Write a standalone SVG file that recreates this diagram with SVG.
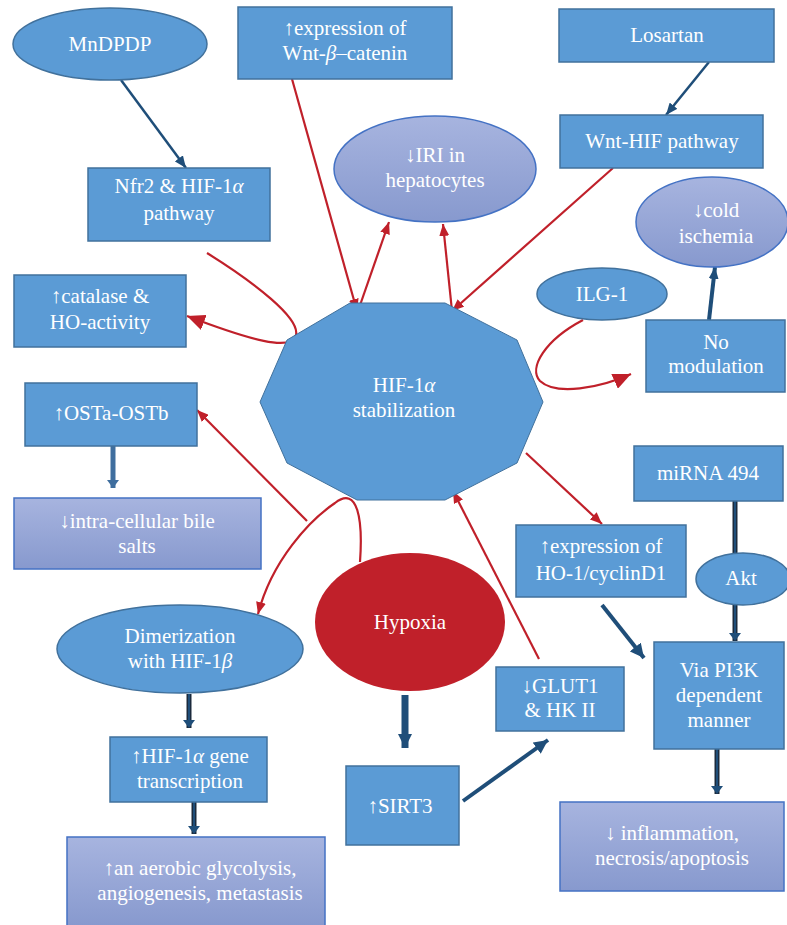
<svg xmlns="http://www.w3.org/2000/svg" width="787" height="925" viewBox="0 0 787 925">
<defs>
<linearGradient id="lav" x1="0" y1="0" x2="0" y2="1">
<stop offset="0" stop-color="#A7B4DF"/>
<stop offset="1" stop-color="#8799CE"/>
</linearGradient>
<marker id="aR" markerUnits="userSpaceOnUse" markerWidth="12" markerHeight="10" refX="12" refY="5" orient="auto"><path d="M0,0 L12,5 L0,10 z" fill="#C0202A"/></marker>
<marker id="aRB" markerUnits="userSpaceOnUse" markerWidth="18" markerHeight="16" refX="18" refY="8" orient="auto"><path d="M0,0 L18,8 L0,16 z" fill="#C0202A"/></marker>
<marker id="aN" markerUnits="userSpaceOnUse" markerWidth="12" markerHeight="10" refX="12" refY="5" orient="auto"><path d="M0,0 L12,5 L0,10 z" fill="#1F4E79"/></marker>
<marker id="aNB" markerUnits="userSpaceOnUse" markerWidth="14" markerHeight="14" refX="14" refY="7" orient="auto"><path d="M0,0 L14,7 L0,14 z" fill="#1F4E79"/></marker>
<marker id="aS" markerUnits="userSpaceOnUse" markerWidth="8" markerHeight="12" refX="8" refY="6" orient="auto"><path d="M0,0 L8,6 L0,12 z" fill="#3F6E9E"/></marker>
<marker id="aD" markerUnits="userSpaceOnUse" markerWidth="8" markerHeight="12" refX="8" refY="6" orient="auto"><path d="M0,0 L8,6 L0,12 z" fill="#1F4E79"/></marker>
</defs>
<style>
.box{fill:#5B9BD5;stroke:#41719C;stroke-width:1.5}
.lav{fill:url(#lav);stroke:#4472C4;stroke-width:1.5}
.hyp{fill:#C0202A;stroke:none}
text{font-family:"Liberation Serif","DejaVu Serif",serif;font-size:21px;fill:#FFFFFF;text-anchor:middle}
.i{font-style:italic}
.red{fill:none;stroke:#C0202A;stroke-width:2.2}
.navy{fill:none;stroke:#1F4E79;stroke-width:2.5}
.thick{fill:none;stroke:#1F4E79;stroke-width:4}
.dark{fill:none;stroke:#1B2A3C;stroke-width:5}
</style>
<rect width="787" height="925" fill="#FFFFFF"/>

<g id="connectors">
<line class="navy" x1="121" y1="80" x2="186" y2="168" marker-end="url(#aN)"/>
<line class="navy" x1="709" y1="62" x2="666" y2="115" marker-end="url(#aN)"/>
<line class="thick" x1="709" y1="320" x2="715" y2="267" marker-end="url(#aN)"/>
<line x1="113" y1="446" x2="113" y2="488" stroke="#3F6E9E" stroke-width="5" marker-end="url(#aS)"/>
<line class="dark" x1="189" y1="694" x2="189" y2="728" marker-end="url(#aD)"/>
<line x1="189" y1="694" x2="189" y2="722" stroke="#1F4E79" stroke-width="2"/>
<line class="dark" x1="194" y1="802" x2="194" y2="834" marker-end="url(#aD)"/>
<line x1="194" y1="802" x2="194" y2="828" stroke="#1F4E79" stroke-width="2"/>
<line x1="405" y1="695" x2="405" y2="748" stroke="#1F4E79" stroke-width="7" marker-end="url(#aNB)"/>
<line class="thick" x1="463" y1="801" x2="548" y2="740" marker-end="url(#aNB)"/>
<line class="thick" x1="602" y1="605" x2="644" y2="658" marker-end="url(#aNB)"/>
<line class="dark" x1="735" y1="501" x2="735" y2="553"/>
<line x1="735" y1="501" x2="735" y2="553" stroke="#1F4E79" stroke-width="2"/>
<line class="dark" x1="735" y1="605" x2="735" y2="641" marker-end="url(#aD)"/>
<line x1="735" y1="605" x2="735" y2="636" stroke="#1F4E79" stroke-width="2"/>
<line class="dark" x1="717" y1="749" x2="717" y2="794" marker-end="url(#aD)"/>
<line x1="717" y1="749" x2="717" y2="789" stroke="#1F4E79" stroke-width="2"/>

<line class="red" x1="292" y1="79" x2="357" y2="311" marker-end="url(#aR)"/>
<line class="red" x1="358" y1="311" x2="389" y2="222" marker-end="url(#aR)"/>
<line class="red" x1="452" y1="311" x2="443" y2="224" marker-end="url(#aR)"/>
<line class="red" x1="613" y1="168" x2="452" y2="311" marker-end="url(#aR)"/>
<path class="red" d="M207,253 C255,283 300,318 296,335 C292,352 250,340 187,316" marker-end="url(#aRB)"/>
<path class="red" d="M583,320 C545,340 528,368 540,381 C556,396 600,388 631,374" marker-end="url(#aRB)"/>
<line class="red" x1="307" y1="521" x2="197" y2="410" marker-end="url(#aR)"/>
<path class="red" d="M360,562 C363,520 358,485 335,503 C310,520 272,560 258,614" marker-end="url(#aR)"/>
<line class="red" x1="539" y1="659" x2="453" y2="491" marker-end="url(#aR)"/>
<line class="red" x1="526" y1="453" x2="602" y2="524" marker-end="url(#aR)"/>
</g>

<g id="n-mndpdp"><ellipse class="box" cx="110" cy="44" rx="97" ry="36"/><text x="110" y="51">MnDPDP</text></g>
<g id="n-wntbeta"><rect class="box" x="238" y="7" width="214" height="72"/><text x="345" y="35">↑expression of</text><text x="345" y="60">Wnt-<tspan class="i">β</tspan>–catenin</text></g>
<g id="n-losartan"><rect class="box" x="559" y="9" width="215" height="53"/><text x="667" y="42">Losartan</text></g>
<g id="n-wnthif"><rect class="box" x="560" y="115" width="203" height="53"/><text x="662" y="148">Wnt-HIF pathway</text></g>
<g id="n-iri"><ellipse class="lav" cx="435" cy="169" rx="101" ry="53"/><text x="435" y="162">↓IRI in</text><text x="435" y="187">hepatocytes</text></g>
<g id="n-cold"><ellipse class="lav" cx="712" cy="222" rx="76" ry="45"/><text x="716" y="217">↓cold</text><text x="716" y="243">ischemia</text></g>
<g id="n-nfr2"><rect class="box" x="88" y="168" width="182" height="73"/><text x="179" y="193">Nfr2 &amp; HIF-1<tspan class="i">α</tspan></text><text x="179" y="220">pathway</text></g>
<g id="n-catalase"><rect class="box" x="14" y="275" width="172" height="72"/><text x="100" y="303">↑catalase &amp;</text><text x="100" y="329">HO-activity</text></g>
<g id="n-ilg1"><ellipse class="box" cx="602" cy="294" rx="65" ry="26"/><text x="602" y="301">ILG-1</text></g>
<g id="n-nomod"><rect class="box" x="646" y="320" width="139" height="72"/><text x="716" y="349">No</text><text x="716" y="373">modulation</text></g>
<g id="n-hif"><polygon fill="#5B9BD5" stroke="#41719C" stroke-width="1" points="350,303 445,303 517,340 543,402 517,463 445,500 357,500 287,463 260,402 287,340"/><text x="404" y="392">HIF-1<tspan class="i">α</tspan></text><text x="404" y="417">stabilization</text></g>
<g id="n-osta"><rect class="box" x="25" y="383" width="172" height="63"/><text x="111" y="420">↑OSTa-OSTb</text></g>
<g id="n-bile"><rect class="lav" x="14" y="498" width="247" height="71"/><text x="137" y="528">↓intra-cellular bile</text><text x="137" y="553">salts</text></g>
<g id="n-mirna"><rect class="box" x="634" y="446" width="149" height="55"/><text x="708" y="480">miRNA 494</text></g>
<g id="n-ho1"><rect class="box" x="516" y="525" width="170" height="72"/><text x="601" y="553">↑expression of</text><text x="601" y="580">HO-1/cyclinD1</text></g>
<g id="n-akt"><ellipse class="box" cx="743" cy="579" rx="47" ry="26"/><text x="741" y="585">Akt</text></g>
<g id="n-hypoxia"><ellipse class="hyp" cx="410" cy="622" rx="95" ry="69"/><text x="410" y="629">Hypoxia</text></g>
<g id="n-dimer"><ellipse class="box" cx="180" cy="649" rx="123" ry="44"/><text x="180" y="643">Dimerization</text><text x="180" y="668">with HIF-1<tspan class="i">β</tspan></text></g>
<g id="n-glut1"><rect class="box" x="496" y="667" width="128" height="64"/><text x="560" y="693">↓GLUT1</text><text x="560" y="717">&amp; HK II</text></g>
<g id="n-pi3k"><rect class="box" x="654" y="642" width="130" height="107"/><text x="719" y="677">Via PI3K</text><text x="719" y="702">dependent</text><text x="719" y="727">manner</text></g>
<g id="n-genetx"><rect class="box" x="110" y="737" width="157" height="65"/><text x="190" y="763">↑HIF-1<tspan class="i">α</tspan> gene</text><text x="190" y="788">transcription</text></g>
<g id="n-sirt3"><rect class="box" x="346" y="766" width="113" height="79"/><text x="400" y="813">↑SIRT3</text></g>
<g id="n-aerobic"><rect class="lav" x="67" y="837" width="258" height="90"/><text x="200" y="875">↑an aerobic glycolysis,</text><text x="200" y="900">angiogenesis, metastasis</text></g>
<g id="n-inflam"><rect class="lav" x="560" y="802" width="224" height="89"/><text x="672" y="840">↓ inflammation,</text><text x="672" y="865">necrosis/apoptosis</text></g>
</svg>
